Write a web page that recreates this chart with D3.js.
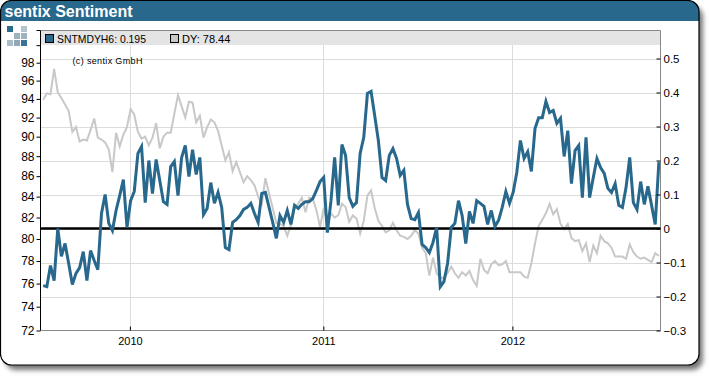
<!DOCTYPE html>
<html>
<head>
<meta charset="utf-8">
<script src="https://cdn.jsdelivr.net/npm/d3@7"></script>
<style>
    html, body { margin: 0; padding: 0; background: #fff; }
    svg { display: block; }
    text { font-family: "Liberation Sans", Arial, sans-serif; fill: #000; }
    .domain { display: none; }
</style>
</head>
<body>
<div id="chart"></div>
<script>
// weekly readings
const sentiment = [
    -0.168, -0.171, -0.109, -0.153, 0, -0.082, -0.044, -0.103, -0.165, -0.132,
    -0.115, -0.068, -0.153, -0.065, -0.094, -0.121, 0.044, 0.1, 0.015, -0.006,
    0.053, 0.097, 0.144, 0.003, 0.082, 0.109, 0.221, 0.241, 0.076, 0.2,
    0.103, 0.203, 0.141, 0.079, 0.071, 0.182, 0.197, 0.097, 0.209, 0.244,
    0.153, 0.232, 0.159, 0.209, 0.041, 0.059, 0.135, 0.074, 0.106, 0.062,
    -0.056, -0.062, 0.018, 0.026, 0.038, 0.056, 0.062, 0.074, 0.044, 0.018,
    0.103, 0.106, 0.062, 0.018, -0.029, 0.038, 0.018, 0.053, 0.012, 0.068,
    0.059, 0.071, 0.079, 0.079, 0.088, 0.112, 0.138, 0.15, -0.012, 0.082,
    0.209, 0.068, 0.247, 0.215, 0.091, 0.065, 0.076, 0.221, 0.268, 0.397,
    0.403, 0.332, 0.259, 0.15, 0.141, 0.215, 0.235, 0.206, 0.156, 0.171,
    0.071, 0.029, 0.026, 0.047, -0.047, -0.056, -0.071, -0.041, 0.003, -0.171,
    -0.156, -0.103, 0.003, 0.015, 0.082, 0.038, -0.044, 0.05, 0.015, 0.082,
    0.074, 0.065, 0.012, 0.053, 0.006, 0.024, 0.062, 0.109, 0.074, 0.106,
    0.165, 0.259, 0.206, 0.226, 0.168, 0.294, 0.326, 0.326, 0.374, 0.341,
    0.347, 0.309, 0.324, 0.212, 0.288, 0.132, 0.229, 0.244, 0.091, 0.268,
    0.091, 0.15, 0.206, 0.179, 0.162, 0.118, 0.106, 0.132, 0.068, 0.062,
    0.121, 0.209, 0.076, 0.056, 0.138, 0.071, 0.124, 0.068, 0.012, 0.195
];
const dax = [
    93.9, 94.6, 94.5, 97.3, 94.7, 94.1, 93.4, 92.7, 90.5, 91.0,
    89.5, 89.7, 89.6, 90.7, 91.9, 89.9, 89.7, 89.4, 88.7, 86.4,
    90.4, 89.0, 90.2, 91.0, 92.9, 92.3, 90.5, 89.8, 90.0, 89.1,
    89.9, 91.4, 88.8, 90.0, 90.4, 90.4, 92.4, 94.4, 93.2, 92.0,
    93.7, 93.6, 91.5, 92.2, 89.9, 91.0, 91.8, 91.5, 90.6, 89.1,
    87.6, 88.4, 86.5, 87.4, 86.4, 85.4, 86.0, 85.6, 85.1, 84.0,
    83.3, 85.8, 84.3, 82.9, 81.5, 81.4, 81.2, 80.3, 81.3, 82.9,
    83.3, 83.9, 82.5, 83.9, 83.8, 82.7, 81.1, 82.9, 81.5, 82.4,
    82.0, 82.2, 83.3, 83.0, 81.6, 82.2, 81.9, 80.5, 81.7, 84.1,
    84.6, 82.9, 81.7, 81.2, 80.6, 80.8, 81.5, 80.8, 80.3, 80.2,
    80.0, 80.3, 80.8, 80.5, 79.2, 78.7, 76.7, 78.3, 76.9, 76.5,
    76.5, 76.9, 77.5, 76.9, 76.5, 77.0, 76.7, 77.1, 76.3, 75.8,
    78.2, 77.2, 76.9, 77.7, 78.0, 77.6, 77.7, 78.0, 77.0, 77.0,
    77.0, 77.0, 76.6, 76.5, 77.8, 79.6, 81.2, 81.8, 82.4, 83.3,
    82.3, 82.8, 81.4, 80.9, 81.4, 80.1, 79.8, 79.9, 78.9, 79.6,
    77.9, 79.4, 78.7, 80.3, 79.8, 79.6, 79.2, 78.4, 78.4, 78.4,
    78.2, 79.5, 78.8, 78.4, 78.2, 78.3, 78.1, 77.9, 78.7, 78.44
];
const leftTicks = [72, 74, 76, 78, 80, 82, 84, 86, 88, 90, 92, 94, 96, 98, 100];
const rightTicks = [-0.3, -0.2, -0.1, 0, 0.1, 0.2, 0.3, 0.4, 0.5];
const yearLabels = ['2010', '2011', '2012'];
const yearWeeks = [23.8, 76.9, 128.8];
const logoCells = [[0, 0, '#2a6a8e'], [2, 0, '#b4c4cd'], [1, 1, '#9db3c0'], [2, 1, '#9db3c0'],
    [0, 2, '#a9bcc8'], [1, 2, '#8ea8b8'], [2, 2, '#3a7599']];

const blue = '#27688c', grey = '#c8c8c8', gridColor = '#dcdcdc', frameColor = '#888';
const width = 710, height = 376;
const plot = { left: 40.5, right: 660.5, top: 30.5, bottom: 330.5 };

const svg = d3.select('#chart').append('svg')
    .attr('width', width)
    .attr('height', height);

// window frame
const defs = svg.append('defs');
defs.append('filter').attr('id', 'shadow')
    .attr('x', '-5%').attr('y', '-5%').attr('width', '110%').attr('height', '115%')
    .append('feGaussianBlur').attr('stdDeviation', 2.5);
defs.append('clipPath').attr('id', 'panelClip')
    .append('rect').attr('x', 0.5).attr('y', 0.5).attr('width', 698.5).attr('height', 364.5).attr('rx', 11);

svg.append('rect')
    .attr('x', 5).attr('y', 6).attr('width', 698).attr('height', 364).attr('rx', 11)
    .attr('fill', '#777')
    .attr('filter', 'url(#shadow)');
svg.append('rect')
    .attr('x', 0.5).attr('y', 0.5).attr('width', 698.5).attr('height', 364.5).attr('rx', 11)
    .attr('fill', '#fff');
svg.append('rect')
    .attr('x', 0).attr('y', 0).attr('width', 700).attr('height', 21)
    .attr('fill', blue)
    .attr('clip-path', 'url(#panelClip)');
svg.append('rect')
    .attr('x', 0.5).attr('y', 0.5).attr('width', 698.5).attr('height', 364.5).attr('rx', 11)
    .attr('fill', 'none').attr('stroke', '#000').attr('stroke-width', 1.2);
svg.append('text')
    .attr('x', 4.5).attr('y', 16.5)
    .style('fill', '#fff')
    .style('font-size', '16px')
    .style('font-weight', 'bold')
    .text('sentix Sentiment');

// logo
svg.append('g').selectAll('rect')
    .data(logoCells)
    .join('rect')
    .attr('x', d => 7 + d[0] * 7)
    .attr('y', d => 26 + d[1] * 7)
    .attr('width', 6)
    .attr('height', 6)
    .attr('fill', d => d[2]);

// scales
const xScale = d3.scaleLinear().domain([-0.74, 169.45]).range([plot.left, plot.right]);
const yLeft = d3.scaleLog().domain([72, 101.7]).range([plot.bottom, plot.top]);
const yRight = d3.scaleLinear().domain([-0.3, 0.5824]).range([plot.bottom, plot.top]);

// legend band sits behind everything else
svg.append('rect')
    .attr('x', plot.left).attr('y', plot.top)
    .attr('width', plot.right - plot.left).attr('height', 14.5)
    .attr('fill', '#e4e4e4');

// grid
svg.append('g').selectAll('line')
    .data(rightTicks.filter(d => d !== -0.3))
    .join('line')
    .attr('x1', plot.left).attr('x2', plot.right)
    .attr('y1', d => Math.round(yRight(d)) + 0.5).attr('y2', d => Math.round(yRight(d)) + 0.5)
    .attr('stroke', gridColor);
svg.append('g').selectAll('line')
    .data(yearWeeks)
    .join('line')
    .attr('x1', d => Math.round(xScale(d)) + 0.5).attr('x2', d => Math.round(xScale(d)) + 0.5)
    .attr('y1', plot.top + 14.5).attr('y2', plot.bottom)
    .attr('stroke', gridColor);

// plot frame
svg.append('path')
    .attr('d', `M${plot.left},${plot.top}H${plot.right}V${plot.bottom}H${plot.left}`)
    .attr('fill', 'none')
    .attr('stroke', frameColor);

// series
const week = (d, i) => xScale(i);
svg.append('path')
    .datum(dax)
    .attr('fill', 'none')
    .attr('stroke', grey)
    .attr('stroke-width', 2)
    .attr('d', d3.line().x(week).y(d => yLeft(d)));

svg.append('line')
    .attr('x1', plot.left).attr('x2', plot.right)
    .attr('y1', yRight(0)).attr('y2', yRight(0))
    .attr('stroke', '#000')
    .attr('stroke-width', 2.4);

svg.append('path')
    .datum(sentiment)
    .attr('fill', 'none')
    .attr('stroke', blue)
    .attr('stroke-width', 3)
    .attr('d', d3.line().x(week).y(d => yRight(d)));

// axes
const styleAxis = (g, size) => {
    g.selectAll('text').style('font-size', size).style('font-family', '"Liberation Sans", Arial, sans-serif');
    g.selectAll('line').attr('stroke', '#000');
};

const axisLeft = svg.append('g')
    .attr('transform', `translate(${plot.left},0)`)
    .call(d3.axisLeft(yLeft).tickValues(leftTicks).tickSize(4).tickPadding(2)
        .tickFormat(d => d === 100 ? '' : d));
styleAxis(axisLeft, '12px');
svg.append('line')
    .attr('x1', plot.left).attr('x2', plot.left)
    .attr('y1', plot.top).attr('y2', plot.bottom)
    .attr('stroke', '#000');
svg.append('line')
    .attr('x1', plot.left - 4).attr('x2', plot.left)
    .attr('y1', plot.top).attr('y2', plot.top)
    .attr('stroke', '#000');

const axisRight = svg.append('g')
    .attr('transform', `translate(${plot.right},0)`)
    .call(d3.axisRight(yRight).tickValues(rightTicks).tickSize(-4).tickPadding(3)
        .tickFormat(d => d === 0 ? '0' : d3.format('.1f')(d)));
styleAxis(axisRight, '11.5px');

const axisBottom = svg.append('g')
    .attr('transform', `translate(0,${plot.bottom})`)
    .call(d3.axisBottom(xScale).tickValues(yearWeeks).tickSize(-4).tickPadding(7)
        .tickFormat((d, i) => yearLabels[i]));
styleAxis(axisBottom, '11px');

// legend
const legendItems = [
    { label: 'SNTMDYH6: 0.195', color: blue, x: 45.5, size: '10.4px' },
    { label: 'DY: 78.44', color: grey, x: 170.5, size: '11px' }
];
const legend = svg.append('g').selectAll('g')
    .data(legendItems)
    .join('g')
    .attr('transform', d => `translate(${d.x},34.5)`);
legend.append('rect')
    .attr('width', 8).attr('height', 8)
    .attr('fill', d => d.color)
    .attr('stroke', '#000');
legend.append('text')
    .attr('x', 11.5).attr('y', 8.5)
    .style('font-size', d => d.size)
    .text(d => d.label);

svg.append('text')
    .attr('x', 72.5).attr('y', 64)
    .style('font-size', '9px')
    .style('letter-spacing', '0.35px')
    .text('(c) sentix GmbH');
</script>
</body>
</html>
